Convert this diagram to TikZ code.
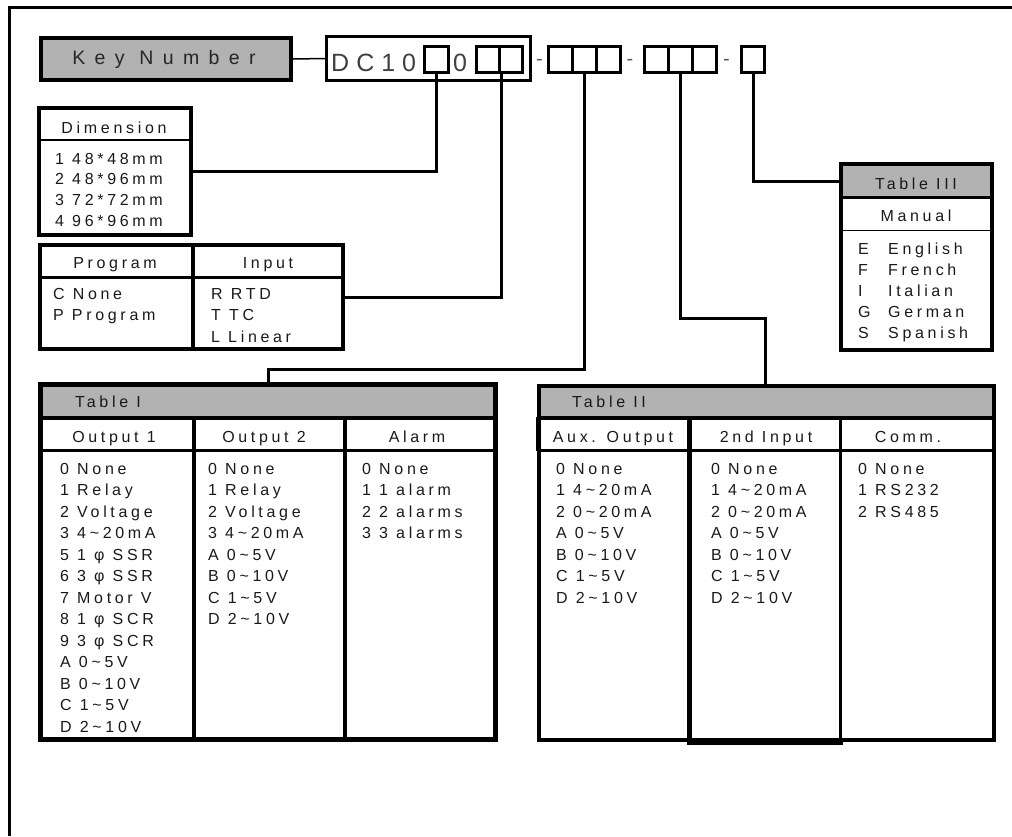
\documentclass[tikz,border=0pt]{standalone}
\usepackage{fontspec}
\setmainfont{Liberation Sans}
\newfontfamily\itemfont[LetterSpace=23]{Liberation Sans}
\newfontfamily\keyfont[LetterSpace=48]{Liberation Sans}
\newfontfamily\dcfont[LetterSpace=28]{Liberation Sans}
\newcommand\tld{\textasciitilde}
\begin{document}
\begin{tikzpicture}[x=1pt,y=-1pt,
  txt/.style={font=\itemfont\fontsize{16}{19}\selectfont, text=black!90, inner sep=0pt},
  item/.style={txt, anchor=base west},
  head/.style={txt, anchor=base},
  digit/.style={draw, line width=3pt, minimum width=24pt, minimum height=26pt, inner sep=0pt},
  conn/.style={line width=3pt},
  framebox/.style={draw, line width=3.5pt, inner sep=0pt},
  hyph/.style={font=\fontsize{20}{20}\selectfont, text=black!65, inner sep=0pt, anchor=base},
]
\useasboundingbox (0,0) rectangle (1012,836);
% outer frame
\draw[line width=3pt] (9,836) -- (9,7) -- (1012,7);

% key number
\node[framebox, line width=4pt, fill=gray!60, minimum width=250pt, minimum height=42pt] (key) at (166,59) {};
\node[font=\keyfont\fontsize{19.5}{20}\selectfont, text=black!85, inner sep=0pt, anchor=base] (keyt) at (164,64) {Key Number};
\node[draw, line width=2.5pt, minimum width=204pt, minimum height=44pt, inner sep=0pt] (dc) at (428.5,58.5) {};
\draw[line width=1.5pt] (key.east) -- (dc.west);
\node[font=\dcfont\fontsize{25}{25}\selectfont, text=black!75, inner sep=0pt, anchor=base west] (dct) at (331,71) {DC10};
\node[font=\dcfont\fontsize{25}{25}\selectfont, text=black!75, inner sep=0pt, anchor=base west] (dc0) at (453,71) {0};
\node[digit] (b1) at (436.5,59.5) {};
\node[digit, minimum width=23pt] (b2a) at (488,59.5) {};
\node[digit, minimum width=23pt] (b2b) at (511,59.5) {};
\node[hyph] (d1) at (539.5,65.5) {-};
\node[digit] (b3a) at (560.5,59.5) {};
\node[digit] (b3b) at (584.5,59.5) {};
\node[digit] (b3c) at (608.5,59.5) {};
\node[hyph] (d2) at (630,65.5) {-};
\node[digit] (b4a) at (656,59.5) {};
\node[digit] (b4b) at (680,59.5) {};
\node[digit] (b4c) at (704,59.5) {};
\node[hyph] (d3) at (726.5,65.5) {-};
\node[digit, minimum width=23pt] (b5) at (753,59.5) {};

% Dimension
\node[framebox, minimum width=152pt, minimum height=127pt] (dim) at (115,171.5) {};
\draw[line width=2pt] (39,140) -- (191,140);
\node[head] (dimh) at (114,133) {Dimension};
\foreach \t [count=\i from 0] in {1 48*48mm, 2 48*96mm, 3 72*72mm, 4 96*96mm}
  \node[item] (dim-\i) at (55,{164+20.8*\i}) {\t};

% Program / Input
\node[framebox, minimum width=303pt, minimum height=104pt] (pi) at (191.5,297) {};
\draw[line width=3pt] (40,277.5) -- (343,277.5);
\draw[line width=4pt] (193,245) -- (193,349);
\node[head] (progh) at (115,268) {Program};
\node[head] (inh) at (268,268) {Input};
\foreach \t [count=\i from 0] in {C None, P Program}
  \node[item] (pr-\i) at (53,{299+21.6*\i}) {\t};
\foreach \t [count=\i from 0] in {R RTD, T TC, L Linear}
  \node[item] (in-\i) at (211,{299+21.6*\i}) {\t};

% Table III
\fill[gray!60] (841,164) rectangle (992,197);
\node[framebox, minimum width=151pt, minimum height=186pt] (t3) at (916.5,257) {};
\coordinate (t3w) at (841,181);
\draw[line width=3pt] (841,197.5) -- (992,197.5);
\draw[line width=1.5pt] (841,230.5) -- (992,230.5);
\node[head] (t3h) at (916,189) {Table III};
\node[head] (manh) at (916,221.5) {Manual};
\foreach \a/\w [count=\i from 0] in {E/English, F/French, I/Italian, G/German, S/Spanish}{
  \node[item] (ml-\i) at (858,{254+21.1*\i}) {\a};
  \node[item] (mw-\i) at (888,{254+21.1*\i}) {\w};
}

% Table I
\fill[gray!60] (40.5,384.5) rectangle (495.5,417);
\draw[line width=3.5pt] (40.5,418) -- (495.5,418);
\draw[line width=2.5pt] (40.5,450.5) -- (495.5,450.5);
\draw[line width=4pt] (194,418) -- (194,739.5) (345,418) -- (345,739.5);
\node[framebox, line width=4.5pt, minimum width=455pt, minimum height=355pt] (t1) at (268,562) {};
\node[item] (t1h) at (75,407) {Table I};
\node[head] (o1h) at (114,442) {Output 1};
\node[head] (o2h) at (264,442) {Output 2};
\node[head] (alh) at (417,442) {Alarm};
\foreach \t [count=\i from 0] in {0 None, 1 Relay, 2 Voltage, 3 4\tld20mA, 5 1 φ SSR, 6 3 φ SSR, 7 Motor V, 8 1 φ SCR, 9 3 φ SCR, A 0\tld5V, B 0\tld10V, C 1\tld5V, D 2\tld10V}
  \node[item] (o1-\i) at (60,{474+21.5*\i}) {\t};
\foreach \t [count=\i from 0] in {0 None, 1 Relay, 2 Voltage, 3 4\tld20mA, A 0\tld5V, B 0\tld10V, C 1\tld5V, D 2\tld10V}
  \node[item] (o2-\i) at (208,{474+21.5*\i}) {\t};
\foreach \t [count=\i from 0] in {0 None, 1 1 alarm, 2 2 alarms, 3 3 alarms}
  \node[item] (al-\i) at (362,{474+21.5*\i}) {\t};

% Table II
\fill[gray!60] (539,386) rectangle (993.5,417);
\draw[line width=3.5pt] (539,418) -- (993.5,418);
\draw[line width=2.5pt] (539,450.5) -- (993.5,450.5);
\draw[line width=3.5pt] (840.5,418) -- (840.5,740);
\node[framebox, line width=4pt, minimum width=454.5pt, minimum height=354pt] (t2) at (766.25,563) {};
\draw[line width=4.5pt] (689.5,418) -- (689.5,743) -- (840.5,743) -- (840.5,740);
\draw[line width=5pt] (538,417) -- (538,451);
\node[item] (t2h) at (572,407) {Table II};
\node[head] (auxh) at (613,442) {Aux. Output};
\node[head] (in2h) at (766,442) {2nd Input};
\node[head] (comh) at (908,442) {Comm.};
\foreach \t [count=\i from 0] in {0 None, 1 4\tld20mA, 2 0\tld20mA, A 0\tld5V, B 0\tld10V, C 1\tld5V, D 2\tld10V}{
  \node[item] (ax-\i) at (556,{474+21.5*\i}) {\t};
  \node[item] (i2-\i) at (711,{474+21.5*\i}) {\t};
}
\foreach \t [count=\i from 0] in {0 None, 1 RS232, 2 RS485}
  \node[item] (cm-\i) at (858,{474+21.5*\i}) {\t};

% connectors
\coordinate (j1) at (268,369.5);
\coordinate (j2) at (765,318.5);
\draw[conn] (b1.south) |- (dim.east);
\draw[conn] (b2a.south east) |- (pi.east);
\draw[conn] (b3b.south) |- (j1) -- (j1 |- t1.north);
\draw[conn] (b4b.south) |- (j2) -- (j2 |- t2.north);
\draw[conn] (b5.south) |- (t3w);
\end{tikzpicture}
\end{document}
